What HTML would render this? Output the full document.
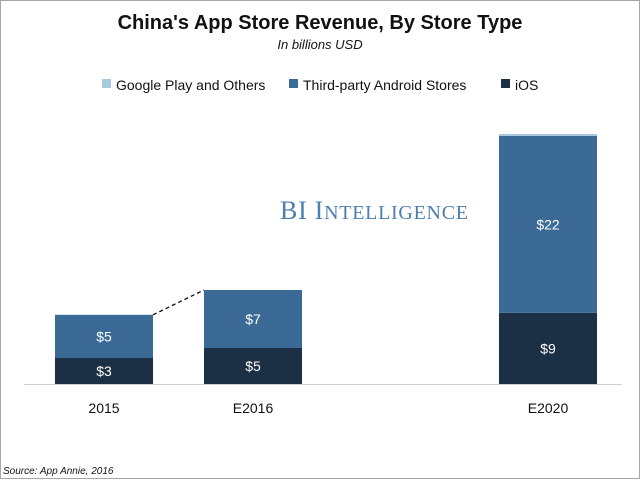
<!DOCTYPE html>
<html><head><meta charset="utf-8"><style>
body{margin:0;background:#fff}
svg text{font-family:"Liberation Sans",sans-serif}
</style></head><body>
<svg width="640" height="480">
<rect x="0.5" y="0.5" width="639" height="478" fill="#fff" stroke="#a6a6a6"/>
<text x="320" y="29" text-anchor="middle" font-size="20" font-weight="bold" fill="#111">China's App Store Revenue, By Store Type</text>
<text x="320" y="49" text-anchor="middle" font-size="13" font-style="italic" fill="#111">In billions USD</text>
<g>
<rect x="102" y="79" width="9" height="9" fill="#a9c9e0"/>
<text x="116" y="90" font-size="14" fill="#111">Google Play and Others</text>
<rect x="289" y="79" width="9" height="9" fill="#3b6a96"/>
<text x="303" y="90" font-size="14" fill="#111">Third-party Android Stores</text>
<rect x="501" y="79" width="9" height="9" fill="#1b2f45"/>
<text x="515" y="90" font-size="14" fill="#111">iOS</text>
</g>
<text x="374" y="219" text-anchor="middle" font-size="26" fill="#4a7fb0" style="font-family:'Liberation Serif',serif" textLength="188" lengthAdjust="spacing">BI I<tspan font-size="20">NTELLIGENCE</tspan></text>
<line x1="24" y1="384.5" x2="622" y2="384.5" stroke="#d0d0d0"/>
<g id="bars"></g>
<text x="3" y="474" font-size="10" font-style="italic" fill="#111">Source: App Annie, 2016</text>
</svg>
<script>
const categories=["2015","E2016","E2020"];
const iosValues=[3.25,4.5,8.9];
const thirdValues=[5.4,7.25,22.1];
const googleValues=[0,0,0.25];
const iosLabels=["$3","$5","$9"];
const thirdLabels=["$5","$7","$22"];
const xLeft=[55,204,499];
const base=384, scale=8, bw=98;
const y=v=>base-v*scale;
const g=document.getElementById('bars');
const NS="http://www.w3.org/2000/svg";
function mk(t,a){const e=document.createElementNS(NS,t);for(const k in a)e.setAttribute(k,a[k]);g.appendChild(e);return e;}
let tops=[];
categories.forEach((c,i)=>{
 const x=xLeft[i];
 const t1=y(iosValues[i]), t2=y(iosValues[i]+thirdValues[i]), t3=y(iosValues[i]+thirdValues[i]+googleValues[i]);
 tops.push(t3);
 let r=mk('rect',{x:x,y:t1,width:bw,height:base-t1,fill:'#1b2f45'});
 
 
 r=mk('rect',{x:x,y:t2,width:bw,height:t1-t2,fill:'#3b6a96'});
 
 
 if(googleValues[i]>0){r=mk('rect',{x:x,y:t3,width:bw,height:t2-t3,fill:'#a9c9e0'});
 
 }
 let tx=mk('text',{x:x+bw/2,y:(t1+base)/2+5,'text-anchor':'middle','font-size':14,fill:'#fff'});tx.textContent=iosLabels[i];
 
 
 tx=mk('text',{x:x+bw/2,y:(t1+t2)/2+5,'text-anchor':'middle','font-size':14,fill:'#fff'});tx.textContent=thirdLabels[i];
 
 
 tx=mk('text',{x:x+bw/2,y:413,'text-anchor':'middle','font-size':14,fill:'#111'});tx.textContent=c;
 
 
});
const dl=mk('line',{x1:xLeft[0]+bw,y1:tops[0],x2:xLeft[1],y2:tops[1],stroke:'#111','stroke-width':1.3,'stroke-dasharray':'4,3'});


</script>
</body></html>
